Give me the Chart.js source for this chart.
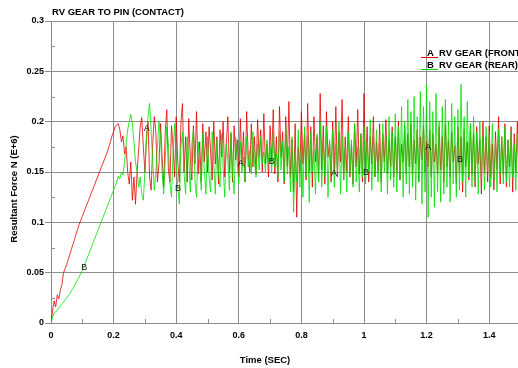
<!DOCTYPE html>
<html>
<head>
<meta charset="utf-8">
<script src="https://cdn.jsdelivr.net/npm/chart.js@4"></script>
<style>
  html, body { margin: 0; padding: 0; background: #fff; }
  #wrap { width: 518px; height: 368px; }
</style>
</head>
<body>
<div id="wrap"><canvas id="chart_elem" width="518" height="368"></canvas></div>
<script>
// resultant force (E+6 N), sampled every 0.005 s from t = 0
const sampleStep = 0.005;

const redForce = [
  0, 0.012, 0.022, 0.016, 0.028, 0.024, 0.033, 0.038, 0.050, 0.054,
  0.058, 0.063, 0.068, 0.073, 0.078, 0.083, 0.088, 0.093, 0.098, 0.102,
  0.106, 0.110, 0.114, 0.118, 0.122, 0.126, 0.130, 0.134, 0.138, 0.142,
  0.146, 0.150, 0.154, 0.158, 0.162, 0.166, 0.170, 0.175, 0.180, 0.186,
  0.190, 0.195, 0.197, 0.198, 0.192, 0.180, 0.186, 0.168, 0.175, 0.150,
  0.138, 0.160, 0.122, 0.145, 0.118, 0.150, 0.172, 0.195, 0.204, 0.175,
  0.150, 0.185, 0.200, 0.145, 0.132, 0.178, 0.205, 0.190, 0.140, 0.158,
  0.198, 0.165, 0.135, 0.190, 0.212, 0.152, 0.140, 0.196, 0.175, 0.145,
  0.205, 0.160, 0.140, 0.198, 0.218, 0.150, 0.185, 0.140, 0.203, 0.165,
  0.142, 0.196, 0.158, 0.210, 0.148, 0.180, 0.140, 0.198, 0.160, 0.190,
  0.150, 0.195, 0.170, 0.142, 0.200, 0.158, 0.185, 0.138, 0.192, 0.165,
  0.200, 0.145, 0.178, 0.205, 0.150, 0.188, 0.140, 0.196, 0.162, 0.182,
  0.145, 0.203, 0.158, 0.190, 0.140, 0.210, 0.168, 0.150, 0.198, 0.155,
  0.185, 0.148, 0.202, 0.165, 0.192, 0.150, 0.208, 0.158, 0.178, 0.145,
  0.196, 0.160, 0.212, 0.148, 0.185, 0.140, 0.215, 0.165, 0.190, 0.138,
  0.205, 0.155, 0.220, 0.145, 0.182, 0.130, 0.198, 0.105, 0.175, 0.150,
  0.210, 0.158, 0.188, 0.142, 0.218, 0.150, 0.195, 0.135, 0.205, 0.160,
  0.185, 0.140, 0.228, 0.152, 0.196, 0.138, 0.210, 0.165, 0.180, 0.140,
  0.200, 0.150, 0.215, 0.145, 0.190, 0.160, 0.222, 0.142, 0.185, 0.150,
  0.205, 0.145, 0.178, 0.138, 0.198, 0.155, 0.212, 0.148, 0.188, 0.140,
  0.228, 0.150, 0.195, 0.140, 0.185, 0.158, 0.205, 0.145, 0.180, 0.150,
  0.198, 0.140, 0.188, 0.160, 0.202, 0.148, 0.182, 0.155, 0.195, 0.145,
  0.185, 0.150, 0.200, 0.142, 0.178, 0.160, 0.195, 0.148, 0.188, 0.155,
  0.198, 0.145, 0.182, 0.158, 0.192, 0.140, 0.185, 0.162, 0.196, 0.150,
  0.180, 0.155, 0.192, 0.145, 0.188, 0.160, 0.178, 0.148, 0.195, 0.152,
  0.185, 0.140, 0.198, 0.155, 0.182, 0.145, 0.190, 0.160, 0.176, 0.138,
  0.195, 0.150, 0.185, 0.130, 0.192, 0.155, 0.180, 0.142, 0.198, 0.148,
  0.188, 0.135, 0.195, 0.158, 0.182, 0.128, 0.200, 0.150, 0.185, 0.140,
  0.196, 0.145, 0.178, 0.132, 0.190, 0.152, 0.205, 0.138, 0.185, 0.148,
  0.198, 0.135, 0.182, 0.155, 0.195, 0.130, 0.188, 0.150, 0.200, 0.142,
  0.170
];

const greenForce = [
  0, 0.006, 0.010, 0.011, 0.013, 0.015, 0.017, 0.019, 0.021, 0.023,
  0.025, 0.027, 0.029, 0.032, 0.034, 0.037, 0.040, 0.043, 0.046, 0.049,
  0.052, 0.056, 0.060, 0.064, 0.068, 0.072, 0.076, 0.080, 0.084, 0.088,
  0.092, 0.096, 0.100, 0.104, 0.108, 0.112, 0.116, 0.120, 0.124, 0.128,
  0.132, 0.136, 0.140, 0.146, 0.143, 0.150, 0.147, 0.160, 0.178, 0.192,
  0.200, 0.207, 0.198, 0.180, 0.160, 0.150, 0.135, 0.145, 0.128, 0.122,
  0.150, 0.180, 0.205, 0.218, 0.190, 0.160, 0.132, 0.150, 0.175, 0.200,
  0.185, 0.150, 0.128, 0.162, 0.195, 0.178, 0.140, 0.125, 0.170, 0.198,
  0.160, 0.135, 0.118, 0.175, 0.190, 0.150, 0.128, 0.185, 0.165, 0.130,
  0.178, 0.192, 0.140, 0.125, 0.180, 0.158, 0.132, 0.188, 0.150, 0.128,
  0.185, 0.145, 0.130, 0.190, 0.160, 0.128, 0.182, 0.150, 0.135, 0.188,
  0.155, 0.125, 0.178, 0.162, 0.132, 0.190, 0.148, 0.128, 0.185, 0.158,
  0.138, 0.180, 0.150, 0.165, 0.140, 0.185, 0.155, 0.172, 0.148, 0.190,
  0.160, 0.145, 0.178, 0.152, 0.185, 0.158, 0.170, 0.150, 0.182, 0.160,
  0.175, 0.150, 0.188, 0.155, 0.168, 0.145, 0.190, 0.152, 0.180, 0.140,
  0.195, 0.148, 0.175, 0.130, 0.185, 0.110, 0.170, 0.140, 0.192, 0.135,
  0.178, 0.125, 0.195, 0.145, 0.185, 0.120, 0.190, 0.150, 0.172, 0.128,
  0.188, 0.140, 0.200, 0.135, 0.180, 0.145, 0.195, 0.125, 0.182, 0.150,
  0.192, 0.135, 0.178, 0.150, 0.200, 0.128, 0.185, 0.142, 0.175, 0.130,
  0.190, 0.148, 0.182, 0.135, 0.198, 0.140, 0.175, 0.130, 0.188, 0.145,
  0.195, 0.138, 0.180, 0.150, 0.202, 0.132, 0.185, 0.145, 0.192, 0.140,
  0.178, 0.130, 0.198, 0.150, 0.185, 0.128, 0.205, 0.142, 0.190, 0.135,
  0.208, 0.130, 0.195, 0.142, 0.215, 0.125, 0.200, 0.138, 0.222, 0.128,
  0.210, 0.135, 0.225, 0.122, 0.205, 0.140, 0.230, 0.118, 0.215, 0.130,
  0.236, 0.105, 0.220, 0.125, 0.210, 0.115, 0.228, 0.130, 0.200, 0.120,
  0.215, 0.128, 0.222, 0.135, 0.200, 0.120, 0.218, 0.138, 0.205, 0.125,
  0.212, 0.132, 0.237, 0.140, 0.205, 0.125, 0.220, 0.145, 0.198, 0.135,
  0.205, 0.140, 0.190, 0.128, 0.200, 0.145, 0.185, 0.132, 0.195, 0.150,
  0.188, 0.135, 0.198, 0.142, 0.180, 0.130, 0.192, 0.148, 0.185, 0.138,
  0.195, 0.140, 0.182, 0.135, 0.190, 0.145, 0.178, 0.132, 0.188, 0.150,
  0.165
];

// curve letters written along the traces
const markText = ['A', 'B', 'A', 'B', 'A', 'B', 'A', 'B', 'B'];
const markTime = [0.306, 0.406, 0.606, 0.705, 0.904, 1.006, 1.205, 1.307, 0.106];
const markForce = [0.193, 0.134, 0.158, 0.160, 0.148, 0.149, 0.174, 0.162, 0.055];

const xTicks = [0, 0.2, 0.4, 0.6, 0.8, 1, 1.2, 1.4];
const xMinor = [0.1, 0.3, 0.5, 0.7, 0.9, 1.1, 1.3];
const yMinor = [0.025, 0.075, 0.125, 0.175, 0.225, 0.275];

const timeSec = redForce.map((_, i) => +(i * sampleStep).toFixed(3));
const toPoints = arr => arr.map((v, i) => ({ x: timeSec[i], y: v }));

const FONT = '"Liberation Sans", Arial, sans-serif';
const GRID = '#8c8c8c';

const textPlugin = {
  id: 'texts',
  afterDraw(chart) {
    const c = chart.ctx;
    const xs = chart.scales.x, ys = chart.scales.y;
    const area = chart.chartArea;
    c.save();

    // minor ticks inside the axes
    c.strokeStyle = GRID;
    c.lineWidth = 1;
    c.beginPath();
    xMinor.forEach(v => {
      const px = Math.round(xs.getPixelForValue(v)) + 0.5;
      c.moveTo(px, area.bottom);
      c.lineTo(px, area.bottom - 4);
    });
    yMinor.forEach(v => {
      const py = Math.round(ys.getPixelForValue(v)) + 0.5;
      c.moveTo(area.left, py);
      c.lineTo(area.left + 4, py);
    });
    c.stroke();

    // letters on the curves
    c.fillStyle = '#111';
    c.font = '9px ' + FONT;
    c.textAlign = 'center';
    c.textBaseline = 'middle';
    markText.forEach((t, i) => {
      c.fillText(t, xs.getPixelForValue(markTime[i]), ys.getPixelForValue(markForce[i]));
    });

    // title
    c.fillStyle = '#000';
    c.font = 'bold 9.5px ' + FONT;
    c.textAlign = 'left';
    c.textBaseline = 'alphabetic';
    c.fillText('RV GEAR TO PIN (CONTACT)', 52, 15);

    // legend
    c.fillText('A', 427, 56);
    c.fillText('RV GEAR (FRONT', 439, 56);
    c.fillText('B', 427, 68);
    c.fillText('RV GEAR (REAR)', 439, 68);
    c.lineWidth = 1;
    c.strokeStyle = '#e00000';
    c.beginPath(); c.moveTo(421, 57.5); c.lineTo(438, 57.5); c.stroke();
    c.strokeStyle = '#00d800';
    c.beginPath(); c.moveTo(421, 69.5); c.lineTo(438, 69.5); c.stroke();

    // axis titles
    c.fillStyle = '#000';
    c.textAlign = 'center';
    c.fillText('Time (SEC)', 265, 363);
    c.translate(17, 189);
    c.rotate(-Math.PI / 2);
    c.fillText('Resultant Force N (E+6)', 0, 0);
    c.restore();
  }
};

const canvas = document.getElementById('chart_elem');
const ctx = canvas.getContext('2d');

const data = {
  datasets: [{
    label: 'RV GEAR (REAR)',
    data: toPoints(greenForce),
    borderColor: 'rgba(0, 225, 0, 0.8)',
    borderWidth: 1,
    pointRadius: 0,
    tension: 0
  }, {
    label: 'RV GEAR (FRONT)',
    data: toPoints(redForce),
    borderColor: 'rgba(230, 0, 0, 0.8)',
    borderWidth: 1,
    pointRadius: 0,
    tension: 0
  }]
};

const config = {
  type: 'line',
  data,
  options: {
    responsive: false,
    animation: false,
    layout: { padding: { top: 21, left: 0, right: 0, bottom: 0 } },
    plugins: {
      legend: { display: false },
      tooltip: { enabled: false }
    },
    scales: {
      x: {
        type: 'linear',
        min: 0,
        max: 1.492,
        afterFit: s => { s.height = 45; },
        afterBuildTicks: s => { s.ticks = xTicks.map(v => ({ value: v })); },
        ticks: {
          stepSize: 0.2,
          includeBounds: false,
          padding: 7,
          maxRotation: 0,
          color: '#000',
          font: { family: FONT, size: 9, weight: 'bold' },
          callback: v => String(+v.toFixed(2))
        },
        grid: { color: GRID, drawTicks: false },
        border: { color: GRID }
      },
      y: {
        min: 0,
        max: 0.3,
        afterFit: s => { s.width = 51; },
        ticks: {
          stepSize: 0.05,
          padding: 1,
          color: '#000',
          font: { family: FONT, size: 9, weight: 'bold' },
          callback: v => String(+v.toFixed(3))
        },
        grid: { color: GRID, tickLength: 6, tickColor: GRID },
        border: { color: GRID }
      }
    }
  },
  plugins: [textPlugin]
};

const chart = new Chart(ctx, config);
</script>
</body>
</html>
